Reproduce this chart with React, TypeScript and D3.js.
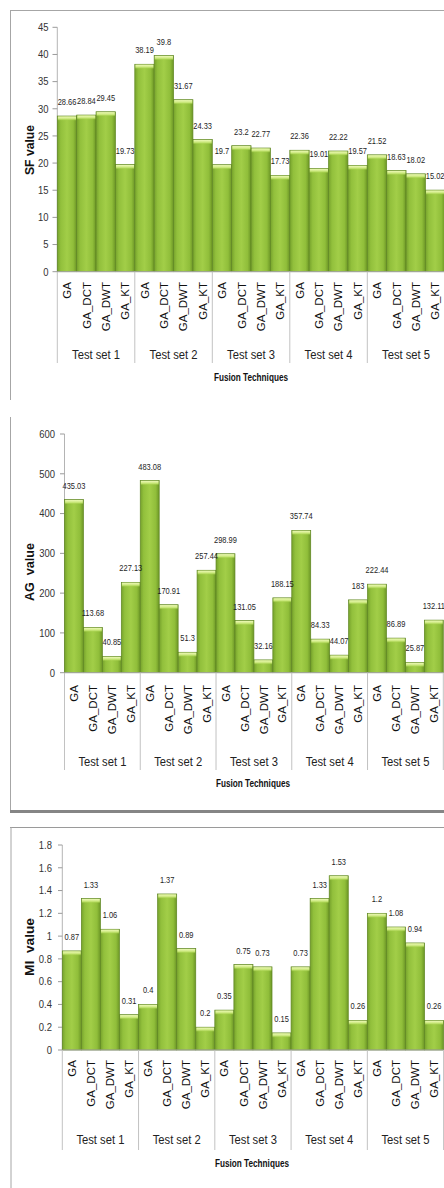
import React from "react";
import * as d3 from "d3";

// Fusion technique comparison: SF, AG and MI per test set
const testSets = ["Test set 1", "Test set 2", "Test set 3", "Test set 4", "Test set 5"];
const techniques = ["GA", "GA_DCT", "GA_DWT", "GA_KT"];

const sfValues = [
  28.66, 28.84, 29.45, 19.73,
  38.19, 39.8, 31.67, 24.33,
  19.7, 23.2, 22.77, 17.73,
  22.36, 19.01, 22.22, 19.57,
  21.52, 18.63, 18.02, 15.02,
];
const agValues = [
  435.03, 113.68, 40.85, 227.13,
  483.08, 170.91, 51.3, 257.44,
  298.99, 131.05, 32.16, 188.15,
  357.74, 84.33, 44.07, 183,
  222.44, 86.89, 25.87, 132.11,
];
const miValues = [
  0.87, 1.33, 1.06, 0.31,
  0.4, 1.37, 0.89, 0.2,
  0.35, 0.75, 0.73, 0.15,
  0.73, 1.33, 1.53, 0.26,
  1.2, 1.08, 0.94, 0.26,
];

const sfTicks = [0, 5, 10, 15, 20, 25, 30, 35, 40, 45];
const agTicks = [0, 100, 200, 300, 400, 500, 600];
const miTicks = [0, 0.2, 0.4, 0.6, 0.8, 1, 1.2, 1.4, 1.6, 1.8];

const FONT = "'Liberation Sans', Arial, sans-serif";

type Panel = {
  values: number[];
  ticks: number[];
  yTitle: string;
  yTitleLen: number;
  x0: number;
  x1: number;
  yZero: number;
  yTop: number;
  tickRight: number;
  tickStart: number;
  catTop: number;
  sepBottom: number;
  groupBase: number;
  titleBase: number;
  titleX: number;
  yTitleY: number;
};

const panels: Panel[] = [
  {
    values: sfValues, ticks: sfTicks, yTitle: "SF value", yTitleLen: 50,
    x0: 57.3, x1: 444.8, yZero: 271.7, yTop: 27.3,
    tickRight: 48.5, tickStart: 52.5, catTop: 282, sepBottom: 363,
    groupBase: 359, titleBase: 380.5, titleX: 251, yTitleY: 150,
  },
  {
    values: agValues, ticks: agTicks, yTitle: "AG  value", yTitleLen: 58,
    x0: 64.5, x1: 443.3, yZero: 672.7, yTop: 434,
    tickRight: 55, tickStart: 60, catTop: 685, sepBottom: 770,
    groupBase: 765.5, titleBase: 787, titleX: 253, yTitleY: 572,
  },
  {
    values: miValues, ticks: miTicks, yTitle: "MI  value", yTitleLen: 58,
    x0: 62.3, x1: 443.6, yZero: 1050, yTop: 845,
    tickRight: 52, tickStart: 58, catTop: 1060, sepBottom: 1150,
    groupBase: 1144, titleBase: 1167, titleX: 252, yTitleY: 947,
  },
];

function SText({ x, y, sx = 1, size, anchor = "middle", weight = "normal", fill = "#222", children }: any) {
  return (
    <text
      transform={`translate(${x},${y}) scale(${sx},1)`}
      textAnchor={anchor}
      fontSize={size}
      fontWeight={weight}
      fontFamily={FONT}
      fill={fill}
    >
      {children}
    </text>
  );
}

function BarPanel({ p }: { p: Panel }) {
  const n = testSets.length * techniques.length;
  const x = d3.scaleBand<number>().domain(d3.range(n)).range([p.x0, p.x1]).padding(0);
  const yMax = p.ticks[p.ticks.length - 1];
  const y = d3.scaleLinear().domain([0, yMax]).range([p.yZero, p.yTop]);
  const bw = x.bandwidth();
  const groupW = bw * techniques.length;

  return (
    <g>
      {/* value axis */}
      <line x1={p.x0} x2={p.x0} y1={p.yTop} y2={p.yZero} stroke="#b4b4b4" strokeWidth={1} />
      {p.ticks.map((t) => (
        <g key={t}>
          <line x1={p.tickStart} x2={p.x0} y1={y(t)} y2={y(t)} stroke="#9a9a9a" strokeWidth={1} />
          <SText x={p.tickRight} y={y(t) + 3.8} size={11} sx={0.86} anchor="end" fill="#333">
            {String(t)}
          </SText>
        </g>
      ))}

      {/* bars */}
      {p.values.map((v, i) => {
        const bx = x(i)!;
        const by = y(v);
        const h = p.yZero - by;
        return (
          <g key={i}>
            <rect x={bx} y={by} width={bw} height={h} fill="url(#barBody)" stroke="#5f8622" strokeWidth={0.7} />
            <rect x={bx + 0.6} y={by + 0.4} width={bw - 1.2} height={Math.min(4, h)} fill="url(#barCap)" />
          </g>
        );
      })}

      {/* value labels */}
      {p.values.map((v, i) => (
        <SText key={i} x={x(i)! + bw / 2} y={y(v) - 11} size={9.6} sx={0.78} fill="#1e1e1e">
          {String(v)}
        </SText>
      ))}

      {/* category axis */}
      <line x1={p.x0} x2={p.x1} y1={p.yZero} y2={p.yZero} stroke="#a8a8a8" strokeWidth={1} />
      {d3.range(testSets.length + 1).map((g) => (
        <line
          key={g}
          x1={p.x0 + g * groupW}
          x2={p.x0 + g * groupW}
          y1={p.yZero}
          y2={p.sepBottom}
          stroke="#c2c2c2"
          strokeWidth={1}
        />
      ))}
      {p.values.map((_, i) => (
        <text
          key={i}
          transform={`translate(${x(i)! + bw / 2},${p.catTop}) rotate(-90)`}
          textAnchor="end"
          dy="0.36em"
          fontSize={11.5}
          fontFamily={FONT}
          fill="#111"
        >
          {techniques[i % techniques.length]}
        </text>
      ))}
      {testSets.map((s, g) => (
        <text
          key={s}
          x={p.x0 + g * groupW + groupW / 2}
          y={p.groupBase}
          textAnchor="middle"
          fontSize={12}
          fontFamily={FONT}
          fill="#222"
          textLength={48}
          lengthAdjust="spacingAndGlyphs"
        >
          {s}
        </text>
      ))}
      <text
        x={p.titleX}
        y={p.titleBase}
        textAnchor="middle"
        fontSize={11.5}
        fontWeight="bold"
        fontFamily={FONT}
        fill="#111"
        textLength={74}
        lengthAdjust="spacingAndGlyphs"
      >
        Fusion Techniques
      </text>
      <text
        transform={`translate(30,${p.yTitleY}) rotate(-90)`}
        textAnchor="middle"
        dy="0.36em"
        fontSize={12}
        fontWeight="bold"
        fontFamily={FONT}
        fill="#111"
        textLength={p.yTitleLen}
        lengthAdjust="spacingAndGlyphs"
        style={{ whiteSpace: "pre" }}
      >
        {p.yTitle}
      </text>
    </g>
  );
}

export default function App() {
  return (
    <svg
      width={444}
      height={1188}
      viewBox="0 0 444 1188"
      style={{ position: "absolute", left: 0, top: 0, background: "#fff" }}
    >
      <defs>
        <linearGradient id="barBody" x1="0" x2="1" y1="0" y2="0">
          <stop offset="0" stopColor="#76a22c" />
          <stop offset="0.18" stopColor="#92c03c" />
          <stop offset="0.5" stopColor="#a2ce48" />
          <stop offset="0.82" stopColor="#90be3a" />
          <stop offset="1" stopColor="#6c9626" />
        </linearGradient>
        <linearGradient id="barCap" x1="0" x2="0" y1="0" y2="1">
          <stop offset="0" stopColor="#eef9b8" />
          <stop offset="0.6" stopColor="#c9e77a" />
          <stop offset="1" stopColor="#a6d04c" stopOpacity={0.4} />
        </linearGradient>
      </defs>

      {/* chart frames */}
      <line x1={10} x2={444} y1={10.5} y2={10.5} stroke="#a6a6a6" strokeWidth={1} />
      <line x1={10.5} x2={10.5} y1={10} y2={400} stroke="#a6a6a6" strokeWidth={1} />
      <line x1={10.5} x2={10.5} y1={417} y2={812} stroke="#a6a6a6" strokeWidth={1} />
      <line x1={10} x2={444} y1={811.5} y2={811.5} stroke="#858585" strokeWidth={3} />
      <line x1={10} x2={444} y1={827.5} y2={827.5} stroke="#9a9a9a" strokeWidth={1} />
      <line x1={11} x2={11} y1={827} y2={1188} stroke="#a6a6a6" strokeWidth={1} />

      {panels.map((p, k) => (
        <BarPanel key={k} p={p} />
      ))}
    </svg>
  );
}
